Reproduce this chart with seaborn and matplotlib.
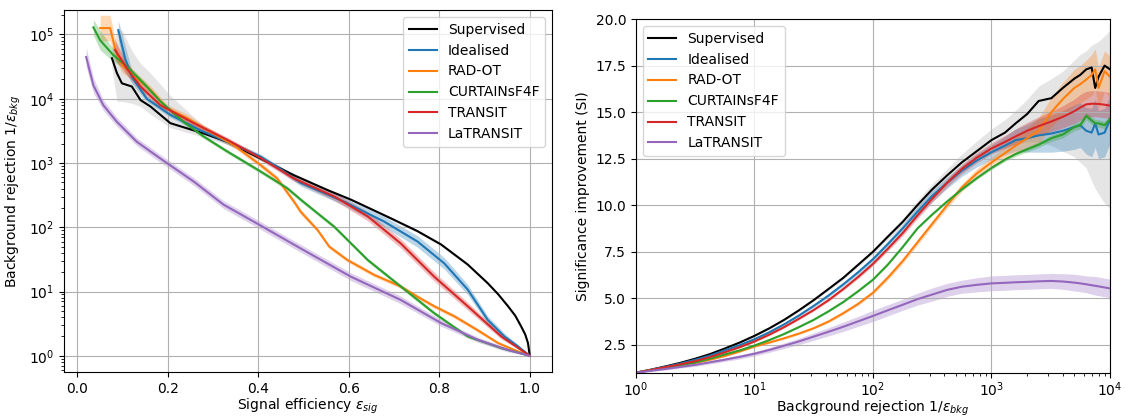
import numpy as np
import seaborn as sns
import matplotlib
matplotlib.use("Agg")
import matplotlib.pyplot as plt

# ---- Left panel: background rejection vs signal efficiency ----
sup_eff = [0.077, 0.088, 0.099, 0.121, 0.14, 0.162, 0.206, 0.28, 0.332, 0.405, 0.479,
           0.553, 0.605, 0.693, 0.752, 0.804, 0.863, 0.907, 0.93, 0.952, 0.968, 0.981,
           0.99, 0.996, 1.0]
sup_rej = [42700, 25100, 17400, 15500, 9550, 7590, 4170, 2880, 2140, 1175, 646,
           380, 269, 138, 87, 54, 26.3, 13.5, 9.1, 5.9, 4.2, 2.86,
           2.14, 1.58, 1.0]
sup_lo = [30000, 9100, 9100, 8500, 7600, 5750, 3550, 2510, 1950, 1100, 610,
          360, 255, 131, 83, 51, 25, 12.8, 8.7, 5.6, 4.0, 2.72,
          2.05, 1.5, 1.0]
sup_hi = [60000, 117000, 117000, 56000, 35500, 25100, 11200, 3800, 2400, 1260, 690,
          400, 283, 145, 92, 57, 27.6, 14.2, 9.5, 6.2, 4.4, 3.0,
          2.25, 1.66, 1.0]

ide_eff = [0.091, 0.106, 0.121, 0.154, 0.206, 0.272, 0.332, 0.405, 0.45, 0.494, 0.59,
           0.678, 0.752, 0.811, 0.863, 0.907, 0.944, 0.974, 1.0]
ide_rej = [117000, 42700, 21900, 10000, 5620, 3240, 2140, 1260, 800, 490, 250,
           123, 60, 27.5, 10.7, 3.63, 2.0, 1.4, 1.0]
ide_w = [0.15, 0.2, 0.1, 0.04, 0.04, 0.04, 0.04, 0.04, 0.04, 0.05, 0.06,
         0.08, 0.09, 0.09, 0.08, 0.06, 0.05, 0.03, 0.0]

rad_eff = [0.051, 0.073, 0.084, 0.099, 0.128, 0.162, 0.199, 0.243, 0.28, 0.346, 0.405,
           0.442, 0.479, 0.494, 0.531, 0.557, 0.597, 0.656, 0.715, 0.752, 0.789,
           0.834, 0.885, 0.93, 0.966, 1.0]
rad_rej = [126000, 126000, 60300, 33900, 21900, 13800, 7080, 5010, 3470, 1900, 933,
           575, 251, 174, 91, 50, 31, 18.2, 12.0, 8.3, 5.9,
           4.1, 2.5, 1.58, 1.23, 1.0]
rad_w = [0.2, 0.2, 0.15, 0.12, 0.08, 0.06, 0.06, 0.06, 0.05, 0.04, 0.04,
         0.04, 0.04, 0.04, 0.03, 0.03, 0.03, 0.03, 0.03, 0.03, 0.03,
         0.03, 0.03, 0.02, 0.02, 0.0]

cur_eff = [0.036, 0.051, 0.08, 0.11, 0.147, 0.184, 0.235, 0.28, 0.332, 0.405, 0.464,
           0.494, 0.568, 0.642, 0.715, 0.789, 0.863, 0.937, 1.0]
cur_rej = [129000, 81300, 47900, 31600, 17400, 9120, 4370, 2570, 1510, 741, 407,
           269, 102, 31, 12.0, 4.6, 2.0, 1.32, 1.0]
cur_w = [0.12, 0.15, 0.1, 0.05, 0.04, 0.03, 0.03, 0.03, 0.03, 0.03, 0.03,
         0.03, 0.03, 0.03, 0.03, 0.03, 0.02, 0.02, 0.0]

tra_eff = [0.084, 0.11, 0.14, 0.184, 0.258, 0.332, 0.405, 0.479, 0.568, 0.642,
           0.715, 0.789, 0.863, 0.937, 1.0]
tra_rej = [57500, 29500, 15500, 7940, 4170, 2290, 1200, 575, 302, 148,
           56, 17.0, 5.9, 2.0, 1.0]
tra_w = [0.15, 0.1, 0.06, 0.04, 0.04, 0.04, 0.04, 0.04, 0.06, 0.07,
         0.07, 0.07, 0.06, 0.04, 0.0]

lat_eff = [0.02, 0.036, 0.058, 0.088, 0.132, 0.184, 0.258, 0.324, 0.40, 0.494,
           0.605, 0.715, 0.804, 0.885, 0.952, 1.0]
lat_rej = [44700, 16200, 7940, 4370, 2140, 1175, 513, 224, 112, 46.8,
           17.0, 7.4, 3.24, 1.78, 1.23, 1.0]
lat_w = [0.15, 0.12, 0.08, 0.07, 0.06, 0.06, 0.06, 0.06, 0.06, 0.06,
         0.06, 0.06, 0.05, 0.04, 0.03, 0.0]

# ---- Right panel: significance improvement vs background rejection ----
rej_grid = [1, 1.33, 1.78, 2.37, 3.16, 4.22, 5.62, 7.5, 10, 13.3, 17.8, 23.7, 31.6,
            42.2, 56.2, 75, 100, 133, 178, 237, 316, 422, 562, 750, 1000,
            1300, 1600, 2000, 2500, 3200, 4000, 5000, 5600, 6300, 7000, 7500, 8000,
            9000, 10000]

si_sup = [1.0, 1.16, 1.34, 1.53, 1.75, 2.0, 2.3, 2.62, 2.98, 3.38, 3.84, 4.35, 4.9,
          5.5, 6.1, 6.8, 7.5, 8.3, 9.1, 10.0, 10.85, 11.6, 12.3, 12.9, 13.5,
          13.9, 14.4, 14.9, 15.6, 15.75, 16.3, 16.8, 17.0, 17.3, 17.4, 16.3, 16.9,
          17.5, 17.3]
si_sup_lo = [1.0, 1.14, 1.31, 1.5, 1.71, 1.96, 2.25, 2.57, 2.93, 3.32, 3.78, 4.28, 4.83,
             5.42, 6.01, 6.7, 7.38, 8.16, 8.93, 9.8, 10.6, 11.3, 11.9, 12.4, 12.8,
             13.1, 13.3, 13.4, 13.4, 13.2, 12.9, 12.6, 12.3, 12.0, 11.3, 10.9, 10.6,
             10.1, 9.8]
si_sup_hi = [1.0, 1.18, 1.37, 1.56, 1.79, 2.04, 2.35, 2.67, 3.03, 3.44, 3.9, 4.42, 4.97,
             5.58, 6.19, 6.9, 7.62, 8.45, 9.3, 10.25, 11.15, 11.95, 12.75, 13.45, 14.1,
             14.6, 15.1, 15.7, 16.4, 16.8, 17.2, 17.8, 18.1, 18.3, 18.6, 18.7, 18.8,
             19.1, 19.4]

si_ide = [1.0, 1.15, 1.32, 1.49, 1.69, 1.92, 2.2, 2.48, 2.8, 3.17, 3.6, 4.07, 4.59,
          5.15, 5.75, 6.4, 7.1, 7.9, 8.75, 9.65, 10.5, 11.2, 11.85, 12.4, 12.85,
          13.2, 13.5, 13.6, 13.75, 13.85, 14.0, 14.2, 14.3, 14.0, 13.9, 14.4, 13.8,
          13.9, 14.6]
si_ide_w = [0, 0.02, 0.03, 0.04, 0.05, 0.05, 0.05, 0.05, 0.05, 0.05, 0.05, 0.06, 0.08,
            0.09, 0.1, 0.12, 0.15, 0.18, 0.22, 0.28, 0.3, 0.3, 0.3, 0.35, 0.4,
            0.5, 0.6, 0.75, 0.9, 1.0, 1.1, 1.2, 1.2, 1.25, 1.3, 1.3, 1.3,
            1.3, 1.3]

si_rad = [1.0, 1.13, 1.27, 1.39, 1.53, 1.7, 1.9, 2.14, 2.41, 2.62, 2.85, 3.1, 3.39,
          3.75, 4.2, 4.7, 5.3, 6.1, 7.0, 8.0, 9.0, 10.0, 10.95, 11.7, 12.3,
          12.8, 13.2, 13.6, 14.0, 15.0, 15.7, 16.3, 16.5, 16.75, 17.0, 17.3, 16.3,
          17.2, 16.9]
si_rad_w = [0, 0.02, 0.02, 0.03, 0.03, 0.03, 0.04, 0.04, 0.05, 0.05, 0.05, 0.05, 0.05,
            0.06, 0.07, 0.08, 0.1, 0.12, 0.14, 0.15, 0.15, 0.17, 0.2, 0.25, 0.3,
            0.35, 0.45, 0.55, 0.7, 0.8, 0.9, 1.0, 1.0, 1.05, 1.1, 1.1, 1.1,
            1.1, 1.1]

si_cur = [1.0, 1.13, 1.27, 1.4, 1.55, 1.75, 1.98, 2.2, 2.46, 2.75, 3.08, 3.45, 3.84,
          4.3, 4.8, 5.38, 6.0, 6.8, 7.75, 8.75, 9.5, 10.2, 10.85, 11.45, 12.0,
          12.45, 12.75, 13.0, 13.25, 13.6, 13.8, 14.2, 14.3, 14.8, 14.55, 14.4, 14.4,
          14.3, 14.63]
si_cur_w = [0, 0.02, 0.02, 0.02, 0.02, 0.03, 0.03, 0.03, 0.03, 0.03, 0.03, 0.04, 0.04,
            0.04, 0.05, 0.05, 0.05, 0.05, 0.05, 0.05, 0.05, 0.06, 0.07, 0.08, 0.08,
            0.1, 0.12, 0.14, 0.15, 0.17, 0.18, 0.2, 0.2, 0.2, 0.2, 0.2, 0.2,
            0.2, 0.2]

si_tra = [1.0, 1.14, 1.3, 1.45, 1.62, 1.84, 2.1, 2.37, 2.68, 3.04, 3.45, 3.9, 4.37,
          4.9, 5.5, 6.15, 6.85, 7.65, 8.5, 9.45, 10.35, 11.2, 11.95, 12.55, 13.05,
          13.4, 13.7, 14.0, 14.25, 14.5, 14.75, 15.05, 15.25, 15.42, 15.45, 15.45, 15.44,
          15.4, 15.35]
si_tra_w = [0, 0.02, 0.02, 0.03, 0.03, 0.03, 0.04, 0.04, 0.05, 0.05, 0.05, 0.06, 0.06,
            0.07, 0.08, 0.09, 0.1, 0.12, 0.15, 0.18, 0.2, 0.22, 0.25, 0.28, 0.3,
            0.35, 0.4, 0.45, 0.5, 0.55, 0.6, 0.65, 0.7, 0.7, 0.7, 0.7, 0.7,
            0.7, 0.7]

si_lat = [1.0, 1.1, 1.2, 1.31, 1.42, 1.56, 1.7, 1.85, 2.02, 2.22, 2.45, 2.68, 2.94,
          3.2, 3.47, 3.76, 4.05, 4.35, 4.65, 4.95, 5.2, 5.45, 5.62, 5.72, 5.8,
          5.83, 5.86, 5.88, 5.91, 5.93, 5.9, 5.84, 5.8, 5.75, 5.7, 5.67, 5.64,
          5.58, 5.53]
si_lat_w = [0, 0.03, 0.05, 0.06, 0.08, 0.09, 0.1, 0.11, 0.12, 0.13, 0.15, 0.17, 0.2,
            0.22, 0.25, 0.27, 0.3, 0.3, 0.3, 0.32, 0.35, 0.35, 0.35, 0.38, 0.4,
            0.4, 0.4, 0.4, 0.4, 0.4, 0.42, 0.45, 0.45, 0.45, 0.48, 0.5, 0.5,
            0.5, 0.5]

names = ["Supervised", "Idealised", "RAD-OT", "CURTAINsF4F", "TRANSIT", "LaTRANSIT"]
colors = ["black", "tab:blue", "tab:orange", "tab:green", "tab:red", "tab:purple"]

fig = plt.figure(figsize=(11.26, 4.16), dpi=100)
ax1 = fig.add_axes([0.0568, 0.1058, 0.4334, 0.870])
ax2 = fig.add_axes([0.5648, 0.1041, 0.4210, 0.850])

# left panel
ax1.fill_between(sup_eff, sup_lo, sup_hi, color="gray", alpha=0.2, lw=0)
left_sets = [(ide_eff, ide_rej, ide_w), (rad_eff, rad_rej, rad_w), (cur_eff, cur_rej, cur_w),
             (tra_eff, tra_rej, tra_w), (lat_eff, lat_rej, lat_w)]
for (e, r, w), c in zip(left_sets, colors[1:]):
    r = np.array(r)
    w = np.array(w)
    ax1.fill_between(e, r / 10**w, r * 10**w, color=c, alpha=0.3, lw=0)

sns.lineplot(x=sup_eff, y=sup_rej, ax=ax1, color=colors[0], label=names[0], sort=False)
for (e, r, w), c, n in zip(left_sets, colors[1:], names[1:]):
    sns.lineplot(x=e, y=r, ax=ax1, color=c, label=n, sort=False)

ax1.set_yscale("log")
ax1.set_xlim(-0.029, 1.049)
ax1.set_ylim(0.56, 2.4e5)
ax1.grid(True)
ax1.set_xlabel(r"Signal efficiency $\varepsilon_{sig}$", labelpad=1)
ax1.set_ylabel(r"Background rejection 1/$\varepsilon_{bkg}$")
ax1.legend(loc="upper right")

# right panel
ax2.fill_between(rej_grid, si_sup_lo, si_sup_hi, color="gray", alpha=0.2, lw=0)
right_sets = [(si_ide, si_ide_w), (si_rad, si_rad_w), (si_cur, si_cur_w),
              (si_tra, si_tra_w), (si_lat, si_lat_w)]
for (s, w), c in zip(right_sets, colors[1:]):
    s = np.array(s)
    w = np.array(w)
    ax2.fill_between(rej_grid, s - w, s + w, color=c, alpha=0.3, lw=0)

sns.lineplot(x=rej_grid, y=si_sup, ax=ax2, color=colors[0], label=names[0])
for (s, w), c, n in zip(right_sets, colors[1:], names[1:]):
    sns.lineplot(x=rej_grid, y=s, ax=ax2, color=c, label=n)

ax2.set_xscale("log")
ax2.set_xlim(1, 1e4)
ax2.set_ylim(1, 20)
ax2.grid(True)
ax2.tick_params(axis="x", pad=2)
ax2.set_xlabel(r"Background rejection 1/$\varepsilon_{bkg}$", labelpad=0)
ax2.set_ylabel("Significance improvement (SI)")
ax2.legend(loc="upper left")

fig.savefig("out.png", dpi=100)
